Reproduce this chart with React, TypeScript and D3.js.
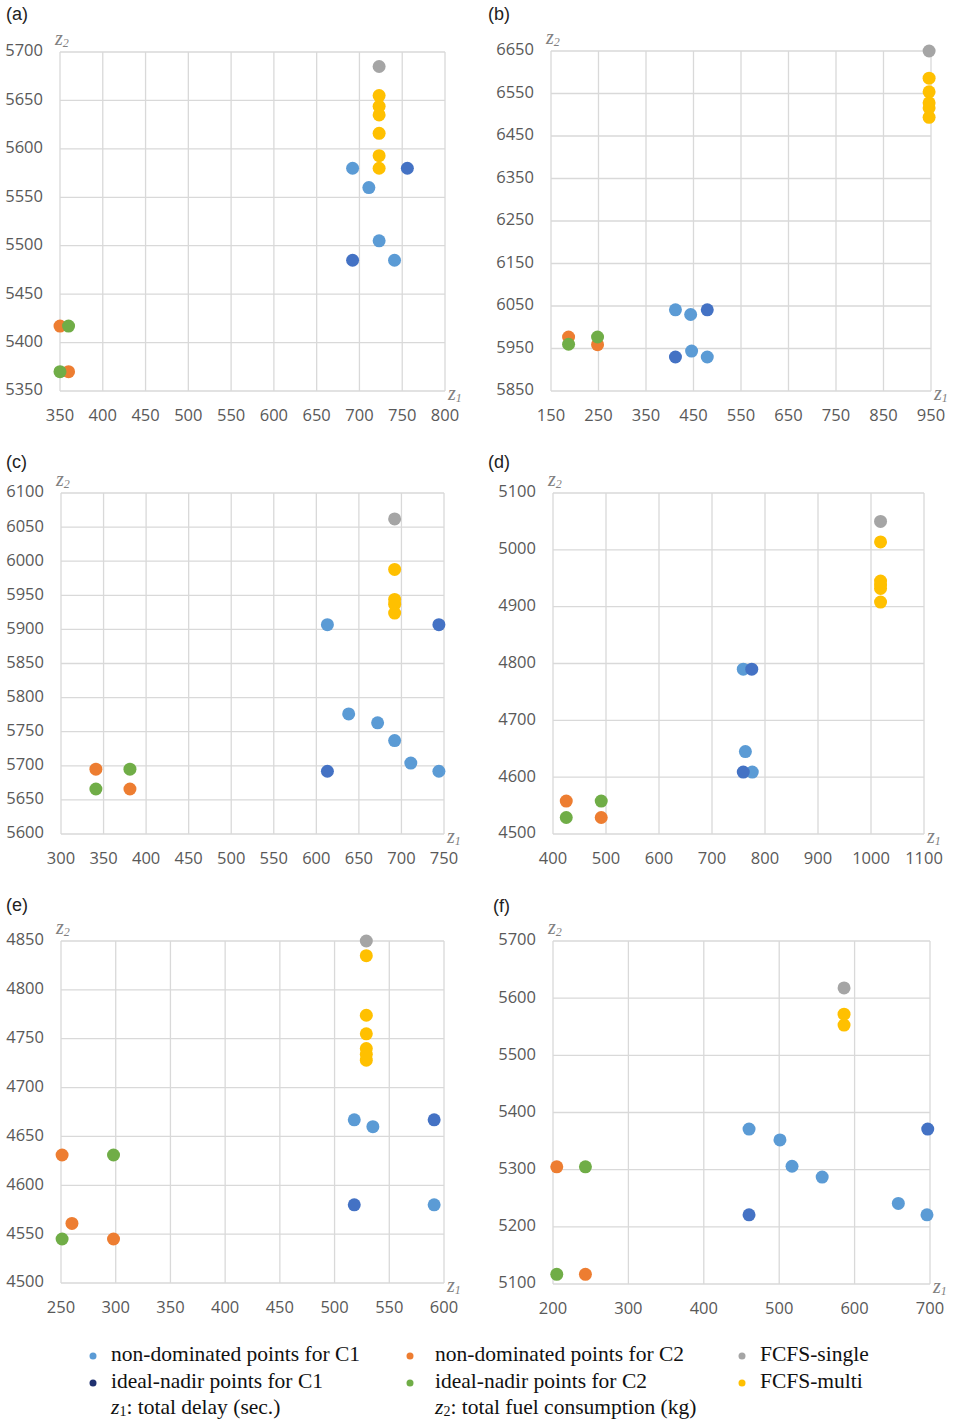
import * as d3 from "d3";

type Pt = [number, number];

// series order: non-dominated C1, ideal-nadir C1, non-dominated C2, ideal-nadir C2, FCFS-single, FCFS-multi
const seriesNames = [
  "non-dominated points for C1",
  "ideal-nadir points for C1",
  "non-dominated points for C2",
  "ideal-nadir points for C2",
  "FCFS-single",
  "FCFS-multi",
];
const seriesColors = ["#5B9BD5", "#4472C4", "#ED7D31", "#70AD47", "#A5A5A5", "#FFC000"];
const legendColors = ["#5B9BD5", "#1F3170", "#ED7D31", "#70AD47", "#A5A5A5", "#FFC000"];

// (a)
const aXTicks = [350, 400, 450, 500, 550, 600, 650, 700, 750, 800];
const aYTicks = [5350, 5400, 5450, 5500, 5550, 5600, 5650, 5700];
const aNonC1: Pt[] = [[692, 5580], [711, 5560], [723, 5505], [741, 5485]];
const aIdealC1: Pt[] = [[692, 5485], [756, 5580]];
const aNonC2: Pt[] = [[350, 5417], [360, 5370]];
const aIdealC2: Pt[] = [[360, 5417], [350, 5370]];
const aSingle: Pt[] = [[723, 5685]];
const aMulti: Pt[] = [[723, 5655], [723, 5644], [723, 5635], [723, 5616], [723, 5593], [723, 5580]];

// (b)
const bXTicks = [150, 250, 350, 450, 550, 650, 750, 850, 950];
const bYTicks = [5850, 5950, 6050, 6150, 6250, 6350, 6450, 6550, 6650];
const bNonC1: Pt[] = [[412, 6041], [444, 6030], [446, 5944], [479, 5930]];
const bIdealC1: Pt[] = [[479, 6041], [412, 5930]];
const bNonC2: Pt[] = [[187, 5977], [248, 5959]];
const bIdealC2: Pt[] = [[187, 5960], [248, 5977]];
const bSingle: Pt[] = [[946, 6650]];
const bMulti: Pt[] = [[946, 6586], [946, 6554], [946, 6528], [946, 6516], [946, 6494]];

// (c)
const cXTicks = [300, 350, 400, 450, 500, 550, 600, 650, 700, 750];
const cYTicks = [5600, 5650, 5700, 5750, 5800, 5850, 5900, 5950, 6000, 6050, 6100];
const cNonC1: Pt[] = [[613, 5907], [638, 5776], [672, 5763], [692, 5737], [711, 5704], [744, 5692]];
const cIdealC1: Pt[] = [[613, 5692], [744, 5907]];
const cNonC2: Pt[] = [[341, 5695], [381, 5666]];
const cIdealC2: Pt[] = [[341, 5666], [381, 5695]];
const cSingle: Pt[] = [[692, 6062]];
const cMulti: Pt[] = [[692, 5988], [692, 5944], [692, 5937], [692, 5924]];

// (d)
const dXTicks = [400, 500, 600, 700, 800, 900, 1000, 1100];
const dYTicks = [4500, 4600, 4700, 4800, 4900, 5000, 5100];
const dNonC1: Pt[] = [[759, 4790], [763, 4645], [776, 4609]];
const dIdealC1: Pt[] = [[775, 4790], [759, 4609]];
const dNonC2: Pt[] = [[425, 4558], [491, 4529]];
const dIdealC2: Pt[] = [[425, 4529], [491, 4558]];
const dSingle: Pt[] = [[1018, 5050]];
const dMulti: Pt[] = [[1018, 5014], [1018, 4945], [1018, 4938], [1018, 4932], [1018, 4908]];

// (e)
const eXTicks = [250, 300, 350, 400, 450, 500, 550, 600];
const eYTicks = [4500, 4550, 4600, 4650, 4700, 4750, 4800, 4850];
const eNonC1: Pt[] = [[518, 4667], [535, 4660], [591, 4580]];
const eIdealC1: Pt[] = [[591, 4667], [518, 4580]];
const eNonC2: Pt[] = [[251, 4631], [260, 4561], [298, 4545]];
const eIdealC2: Pt[] = [[251, 4545], [298, 4631]];
const eSingle: Pt[] = [[529, 4850]];
const eMulti: Pt[] = [[529, 4835], [529, 4774], [529, 4755], [529, 4740], [529, 4734], [529, 4728]];

// (f)
const fXTicks = [200, 300, 400, 500, 600, 700];
const fYTicks = [5100, 5200, 5300, 5400, 5500, 5600, 5700];
const fNonC1: Pt[] = [[460, 5371], [501, 5352], [517, 5306], [557, 5287], [658, 5241], [696, 5221]];
const fIdealC1: Pt[] = [[460, 5221], [697, 5371]];
const fNonC2: Pt[] = [[205, 5305], [243, 5117]];
const fIdealC2: Pt[] = [[205, 5117], [243, 5305]];
const fSingle: Pt[] = [[586, 5618]];
const fMulti: Pt[] = [[586, 5572], [586, 5553]];

const panelData = [
  { label: "(a)", xTicks: aXTicks, yTicks: aYTicks, series: [aNonC1, aIdealC1, aNonC2, aIdealC2, aSingle, aMulti] },
  { label: "(b)", xTicks: bXTicks, yTicks: bYTicks, series: [bNonC1, bIdealC1, bNonC2, bIdealC2, bSingle, bMulti] },
  { label: "(c)", xTicks: cXTicks, yTicks: cYTicks, series: [cNonC1, cIdealC1, cNonC2, cIdealC2, cSingle, cMulti] },
  { label: "(d)", xTicks: dXTicks, yTicks: dYTicks, series: [dNonC1, dIdealC1, dNonC2, dIdealC2, dSingle, dMulti] },
  { label: "(e)", xTicks: eXTicks, yTicks: eYTicks, series: [eNonC1, eIdealC1, eNonC2, eIdealC2, eSingle, eMulti] },
  { label: "(f)", xTicks: fXTicks, yTicks: fYTicks, series: [fNonC1, fIdealC1, fNonC2, fIdealC2, fSingle, fMulti] },
];

// plot box of each panel in page pixels
const layout = [
  { left: 60, right: 445, top: 52, bottom: 391, lx: 6, ly: 15 },
  { left: 551, right: 931, top: 51, bottom: 391, lx: 488, ly: 15 },
  { left: 61, right: 444, top: 493, bottom: 834, lx: 6, ly: 463 },
  { left: 553, right: 924, top: 493, bottom: 834, lx: 488, ly: 463 },
  { left: 61, right: 444, top: 941, bottom: 1283, lx: 6, ly: 906 },
  { left: 553, right: 930, top: 941, bottom: 1284, lx: 493, ly: 907 },
];

const tickFont = "'Open Sans', 'DejaVu Sans', sans-serif";
const serif = "'Liberation Serif', 'DejaVu Serif', serif";

function Panel({ data, box }: { data: (typeof panelData)[number]; box: (typeof layout)[number] }) {
  const x = d3
    .scaleLinear()
    .domain([data.xTicks[0], data.xTicks[data.xTicks.length - 1]])
    .range([box.left, box.right]);
  const y = d3
    .scaleLinear()
    .domain([data.yTicks[0], data.yTicks[data.yTicks.length - 1]])
    .range([box.bottom, box.top]);

  return (
    <g>
      <text x={box.lx} y={box.ly} dominantBaseline="middle" fontFamily="'Liberation Sans', Arial, sans-serif" fontSize={18} fill="#222">
        {data.label}
      </text>
      {/* grid */}
      {data.xTicks.map((t) => (
        <line key={"gx" + t} x1={x(t)} x2={x(t)} y1={box.top} y2={box.bottom} stroke="#d9d9d9" strokeWidth={1.3} />
      ))}
      {data.yTicks.map((t) => (
        <line key={"gy" + t} x1={box.left} x2={box.right} y1={y(t)} y2={y(t)} stroke="#d9d9d9" strokeWidth={1.3} />
      ))}
      {/* tick labels */}
      {data.xTicks.map((t) => (
        <text key={"tx" + t} x={x(t)} y={box.bottom + 26} textAnchor="middle" dominantBaseline="middle" fontFamily={tickFont} fontSize={16.5} fill="#595959">
          {t}
        </text>
      ))}
      {data.yTicks.map((t) => (
        <text key={"ty" + t} x={box.left - 17} y={y(t)} textAnchor="end" dominantBaseline="middle" fontFamily={tickFont} fontSize={16.5} fill="#595959">
          {t}
        </text>
      ))}
      {/* axis names */}
      <text x={box.left - 5} y={box.top - 12} dominantBaseline="middle" fontFamily={serif} fontStyle="italic" fontSize={20} fill="#808080">
        z<tspan fontSize={12} dy={4}>2</tspan>
      </text>
      <text x={box.right + 3} y={box.bottom + 4} dominantBaseline="middle" fontFamily={serif} fontStyle="italic" fontSize={20} fill="#808080">
        z<tspan fontSize={12} dy={4}>1</tspan>
      </text>
      {/* points */}
      {data.series.map((pts, si) =>
        pts.map((p, i) => (
          <circle key={si + "-" + i} cx={x(p[0])} cy={y(p[1])} r={6.5} fill={seriesColors[si]} />
        ))
      )}
    </g>
  );
}

const legendCols = [93, 410, 742];
const legendRows = [1356, 1383];

export default function App() {
  const legendItems = seriesNames.map((name, i) => ({
    name,
    color: legendColors[i],
    col: Math.floor(i / 2),
    row: i % 2,
  }));
  return (
    <svg
      width={955}
      height={1424}
      style={{ position: "absolute", left: 0, top: 0, background: "#fff" }}
    >
      <rect width={955} height={1424} fill="#fff" />
      {panelData.map((d, i) => (
        <Panel key={d.label} data={d} box={layout[i]} />
      ))}
      {legendItems.map((it) => (
        <g key={it.name}>
          <circle cx={legendCols[it.col]} cy={legendRows[it.row]} r={3.5} fill={it.color} />
          <text x={legendCols[it.col] + 18 + (it.col === 1 ? 7 : 0)} y={legendRows[it.row]} dominantBaseline="middle" fontFamily={serif} fontSize={21.5} fill="#111">
            {it.name}
          </text>
        </g>
      ))}
      <text x={legendCols[0] + 18} y={1409} dominantBaseline="middle" fontFamily={serif} fontSize={21.5} fill="#111">
        <tspan fontStyle="italic">z</tspan>
        <tspan fontSize={14} dy={4}>1</tspan>
        <tspan dy={-4}>: total delay (sec.)</tspan>
      </text>
      <text x={legendCols[1] + 25} y={1409} dominantBaseline="middle" fontFamily={serif} fontSize={21.5} fill="#111">
        <tspan fontStyle="italic">z</tspan>
        <tspan fontSize={14} dy={4}>2</tspan>
        <tspan dy={-4}>: total fuel consumption (kg)</tspan>
      </text>
    </svg>
  );
}
